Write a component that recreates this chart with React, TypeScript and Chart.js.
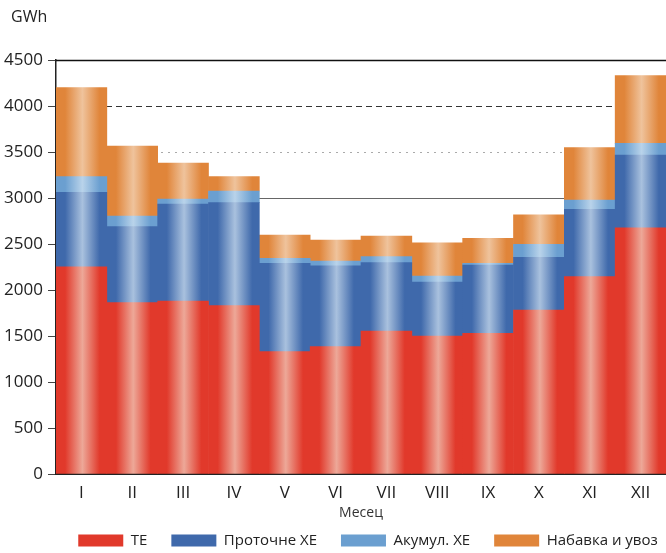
import React, { useEffect, useRef } from "react";
import { Chart, registerables } from "chart.js";

Chart.register(...registerables);

const MONTHS = ["I", "II", "III", "IV", "V", "VI", "VII", "VIII", "IX", "X", "XI", "XII"];
const TE = [2253, 1862, 1880, 1830, 1330, 1384, 1554, 1500, 1529, 1783, 2145, 2677];
const PROTOCNE_HE = [809, 826, 1055, 1119, 960, 880, 743, 587, 741, 572, 732, 790];
const AKUMUL_HE = [170, 116, 54, 127, 54, 51, 65, 65, 20, 141, 101, 127];
const NABAVKA = [967, 761, 391, 156, 254, 228, 225, 362, 272, 322, 569, 736];
const Y_TICKS_MAX = 4500;
const Y_STEP = 500;

const FONT = "'Open Sans', 'Noto Sans', 'DejaVu Sans', sans-serif";
Chart.defaults.font.family = FONT;

const COLORS = {
  te: { base: "#e1392b", light: "#eda898" },
  pr: { base: "#3f69ab", light: "#a9c1de" },
  ak: { base: "#6b9fd0", light: "#b9d3ea" },
  nb: { base: "#e0853a", light: "#efc39c" },
};

function stripe(base: string, light: string) {
  return (ctx: any) => {
    const chart = ctx.chart;
    const xs = chart.scales && chart.scales.x;
    const area = chart.chartArea;
    if (!xs || !area || ctx.type !== "data") return base;
    const cx = xs.getPixelForValue(ctx.dataIndex);
    const w = (area.right - area.left) / MONTHS.length;
    const g = chart.ctx.createLinearGradient(cx - w / 2, 0, cx + w / 2, 0);
    g.addColorStop(0, base);
    g.addColorStop(0.18, base);
    g.addColorStop(0.52, light);
    g.addColorStop(0.86, base);
    g.addColorStop(1, base);
    return g;
  };
}

const refLines = [
  { v: 3000, color: "#666", dash: [] as number[], w: 1 },
  { v: 3500, color: "#aaa", dash: [2, 5], w: 1 },
  { v: 4000, color: "#333", dash: [6, 4], w: 1 },
  { v: 4500, color: "#111", dash: [] as number[], w: 1.5 },
];

const gridPlugin = {
  id: "refGrid",
  beforeDatasetsDraw(chart: any) {
    const { ctx, chartArea, scales } = chart;
    const y = scales.y;
    ctx.save();
    for (const l of refLines) {
      const py = Math.round(y.getPixelForValue(l.v)) + 0.5;
      ctx.beginPath();
      ctx.strokeStyle = l.color;
      ctx.lineWidth = l.w;
      ctx.setLineDash(l.dash);
      ctx.moveTo(chartArea.left, py);
      ctx.lineTo(chartArea.right, py);
      ctx.stroke();
    }
    ctx.restore();
  },
};

const unitPlugin = {
  id: "unitLabel",
  afterDraw(chart: any) {
    const { ctx } = chart;
    ctx.save();
    ctx.font = `16px ${FONT}`;
    ctx.fillStyle = "#222";
    ctx.textBaseline = "middle";
    ctx.textAlign = "left";
    ctx.fillText("GWh", 11, 17);
    ctx.restore();
  },
};

const legendShift = {
  id: "legendShift",
  afterLayout(chart: any) {
    const lg = chart.legend;
    if (lg) {
      lg.left += 35;
      lg.right += 35;
    }
  },
};

export default function App() {
  const ref = useRef<HTMLCanvasElement | null>(null);

  useEffect(() => {
    if (!ref.current) return;
    const chart = new Chart(ref.current, {
      type: "bar",
      data: {
        labels: MONTHS,
        datasets: [
          { label: "ТЕ", data: TE, backgroundColor: stripe(COLORS.te.base, COLORS.te.light) as any },
          { label: "Проточне ХЕ", data: PROTOCNE_HE, backgroundColor: stripe(COLORS.pr.base, COLORS.pr.light) as any },
          { label: "Акумул. ХЕ", data: AKUMUL_HE, backgroundColor: stripe(COLORS.ak.base, COLORS.ak.light) as any },
          { label: "Набавка и увоз", data: NABAVKA, backgroundColor: stripe(COLORS.nb.base, COLORS.nb.light) as any },
        ],
      },
      options: {
        responsive: false,
        animation: false,
        devicePixelRatio: 1,
        layout: { padding: { top: 60, left: 0, right: 0, bottom: 0 } },
        datasets: {
          bar: { barPercentage: 1, categoryPercentage: 1, borderWidth: 0 },
        },
        plugins: {
          title: { display: false },
          tooltip: { enabled: false },
          legend: {
            position: "bottom",
            maxHeight: 44,
            labels: {
              boxWidth: 45,
              boxHeight: 12,
              padding: 24,
              color: "#222",
              font: { size: 15, family: FONT },
              generateLabels(ch: any) {
                const bases = [COLORS.te.base, COLORS.pr.base, COLORS.ak.base, COLORS.nb.base];
                return ch.data.datasets.map((ds: any, i: number) => ({
                  text: ds.label,
                  fillStyle: bases[i],
                  strokeStyle: bases[i],
                  lineWidth: 0,
                  hidden: false,
                  datasetIndex: i,
                  fontColor: "#222",
                }));
              },
            },
          },
        },
        scales: {
          x: {
            stacked: true,
            grid: { display: false, drawTicks: false },
            border: { display: true, color: "#222", width: 2 },
            ticks: { color: "#222", padding: 9, font: { size: 17, family: FONT } },
            title: {
              display: true,
              text: "Месец",
              color: "#333",
              font: { size: 14, family: FONT },
              padding: { top: 0, bottom: -12 },
            },
            afterFit(scale: any) {
              scale.height = 35;
            },
          },
          y: {
            stacked: true,
            min: 0,
            max: Y_TICKS_MAX,
            ticks: {
              stepSize: Y_STEP,
              color: "#222",
              padding: 5,
              font: { size: 17, family: FONT },
              callback: (v: any) => String(v),
            },
            grid: { drawOnChartArea: false, drawTicks: true, tickLength: 8, tickColor: "#444", tickWidth: 1, color: "#444" },
            border: { display: true, color: "#222", width: 1.5 },
            afterFit(scale: any) {
              scale.width = 56;
            },
          },
        },
      },
      plugins: [gridPlugin, unitPlugin, legendShift],
    });
    return () => chart.destroy();
  }, []);

  return (
    <div style={{ position: "fixed", left: 0, top: 0, width: 666, height: 553, background: "#fff" }}>
      <canvas ref={ref} width={666} height={553} />
    </div>
  );
}
